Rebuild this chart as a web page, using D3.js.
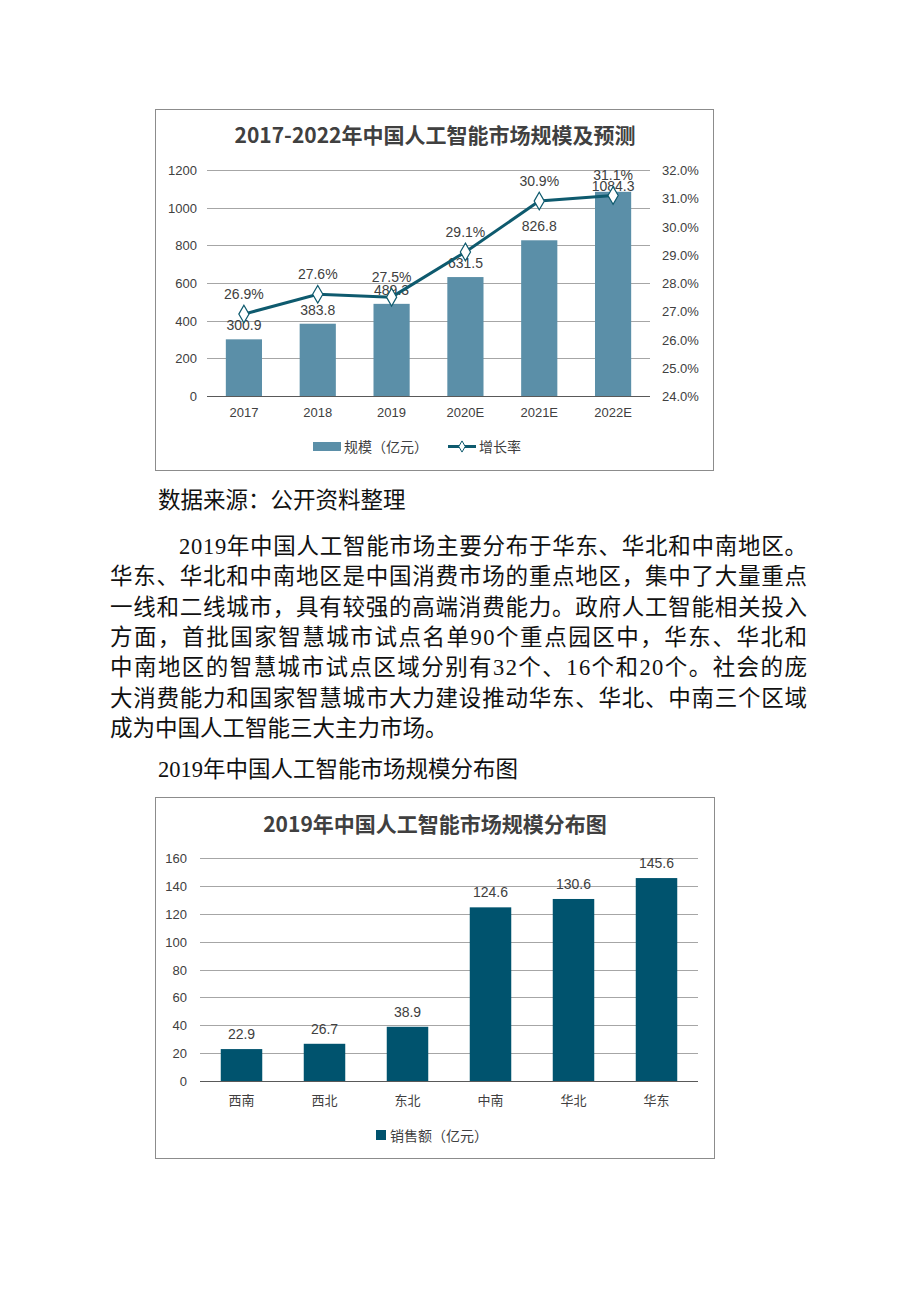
<!DOCTYPE html>
<html>
<head>
<meta charset="utf-8">
<script src="https://cdn.jsdelivr.net/npm/d3@7"></script>
<style>
  body { margin: 0; background: #fff; }
  svg { display: block; }
</style>
</head>
<body>
<div id="page"></div>
<script>
// chart 1 data
const years = ["2017", "2018", "2019", "2020E", "2021E", "2022E"];
const scale = [300.9, 383.8, 489.3, 631.5, 826.8, 1084.3];
const growth = [0.269, 0.276, 0.275, 0.291, 0.309, 0.311];
const leftTicks = [0, 200, 400, 600, 800, 1000, 1200];
const rightTicks = [0.24, 0.25, 0.26, 0.27, 0.28, 0.29, 0.30, 0.31, 0.32];

// chart 2 data
const regions = ["西南", "西北", "东北", "中南", "华北", "华东"];
const sales = [22.9, 26.7, 38.9, 124.6, 130.6, 145.6];
const salesTicks = [0, 20, 40, 60, 80, 100, 120, 140, 160];

const paraLines = [
  "2019年中国人工智能市场主要分布于华东、华北和中南地区。",
  "华东、华北和中南地区是中国消费市场的重点地区，集中了大量重点",
  "一线和二线城市，具有较强的高端消费能力。政府人工智能相关投入",
  "方面，首批国家智慧城市试点名单90个重点园区中，华东、华北和",
  "中南地区的智慧城市试点区域分别有32个、16个和20个。社会的庞",
  "大消费能力和国家智慧城市大力建设推动华东、华北、中南三个区域",
  "成为中国人工智能三大主力市场。"
];

const sans = "'Liberation Sans', Arial, 'Noto Sans CJK SC', sans-serif";
const serif = "'Liberation Serif', 'Times New Roman', 'Noto Sans CJK SC', serif";
const cjk = "'Noto Sans CJK SC', sans-serif";
const txt = "#404040";

const svg = d3.select("#page").append("svg")
    .attr("width", 920)
    .attr("height", 1302);

svg.append("rect").attr("width", 920).attr("height", 1302).attr("fill", "#fff");

// ---------- chart 1 ----------
const c1 = svg.append("g");
c1.append("rect")
    .attr("x", 155.5).attr("y", 109.5).attr("width", 558).attr("height", 361)
    .attr("fill", "none").attr("stroke", "#8c8c8c");

c1.append("text")
    .attr("x", 435).attr("y", 143)
    .attr("text-anchor", "middle")
    .style("font-family", cjk).style("font-size", "21px").style("font-weight", "bold")
    .style("fill", txt)
    .text("2017-2022年中国人工智能市场规模及预测");

const x1 = d3.scaleBand().domain(years).range([207, 650]).paddingInner(0.51).paddingOuter(0.255);
const yL = d3.scaleLinear().domain([0, 1200]).range([396, 170]);
const yR = d3.scaleLinear().domain([0.24, 0.32]).range([396, 170]);
const cx1 = i => x1(years[i]) + x1.bandwidth() / 2;

c1.selectAll(".grid").data(leftTicks).join("line")
    .attr("x1", 207).attr("x2", 650)
    .attr("y1", d => Math.round(yL(d)) + 0.5).attr("y2", d => Math.round(yL(d)) + 0.5)
    .attr("stroke", d => d === 0 ? "#595959" : "#a6a6a6")
    .attr("stroke-width", 1);

c1.selectAll(".lt").data(leftTicks).join("text")
    .attr("x", 197).attr("y", d => yL(d) + 5)
    .attr("text-anchor", "end")
    .style("font-family", sans).style("font-size", "13px").style("fill", txt)
    .text(d => d);

c1.selectAll(".rt").data(rightTicks).join("text")
    .attr("x", 662).attr("y", d => yR(d) + 5)
    .style("font-family", sans).style("font-size", "13px").style("fill", txt)
    .text(d => d3.format(".1%")(d));

c1.selectAll(".xt").data(years).join("text")
    .attr("x", d => x1(d) + x1.bandwidth() / 2).attr("y", 417)
    .attr("text-anchor", "middle")
    .style("font-family", sans).style("font-size", "13px").style("fill", txt)
    .text(d => d);

c1.selectAll(".bar").data(scale).join("rect")
    .attr("x", (d, i) => x1(years[i]))
    .attr("y", d => yL(d))
    .attr("width", x1.bandwidth())
    .attr("height", d => yL(0) - yL(d))
    .attr("fill", "#5b8fa8");

// labels near the top are kept inside the plot, like Excel does
c1.selectAll(".bl").data(scale).join("text")
    .attr("x", (d, i) => cx1(i))
    .attr("y", d => Math.max(yL(d) - 9, 191))
    .attr("text-anchor", "middle")
    .style("font-family", sans).style("font-size", "14px").style("fill", txt)
    .text(d => d);

const line = d3.line()
    .x((d, i) => cx1(i))
    .y(d => yR(d));

c1.append("path").datum(growth)
    .attr("d", line)
    .attr("fill", "none").attr("stroke", "#0e5a6e").attr("stroke-width", 3);

c1.selectAll(".mk").data(growth).join("path")
    .attr("transform", (d, i) => `translate(${cx1(i)},${yR(d)})`)
    .attr("d", d3.symbol(d3.symbolDiamond, 90))
    .attr("fill", "#fff").attr("stroke", "#0e5a6e").attr("stroke-width", 1.2);

c1.selectAll(".gl").data(growth).join("text")
    .attr("x", (d, i) => cx1(i))
    .attr("y", d => yR(d) - 15)
    .attr("text-anchor", "middle")
    .style("font-family", sans).style("font-size", "14px").style("fill", txt)
    .text(d => d3.format(".1%")(d));

// legend 1
c1.append("rect").attr("x", 313).attr("y", 442).attr("width", 28).attr("height", 9).attr("fill", "#5b8fa8");
c1.append("text").attr("x", 344).attr("y", 452)
    .style("font-family", cjk).style("font-size", "14px").style("fill", txt)
    .text("规模（亿元）");
c1.append("line").attr("x1", 448).attr("x2", 476).attr("y1", 446.5).attr("y2", 446.5)
    .attr("stroke", "#0e5a6e").attr("stroke-width", 3);
c1.append("path").attr("transform", "translate(462,446.5)")
    .attr("d", d3.symbol(d3.symbolDiamond, 36))
    .attr("fill", "#fff").attr("stroke", "#0e5a6e");
c1.append("text").attr("x", 479).attr("y", 452)
    .style("font-family", cjk).style("font-size", "14px").style("fill", txt)
    .text("增长率");

// ---------- text ----------
const body = svg.append("g").style("font-family", serif).style("font-size", "22.5px").style("fill", "#111");
body.append("text").attr("x", 158).attr("y", 508).text("数据来源：公开资料整理");

body.selectAll(".pl").data(paraLines).join("text")
    .attr("x", (d, i) => i === 0 ? 179 : 110)
    .attr("y", (d, i) => 554 + i * 30.3)
    .each(function (d, i) {
      if (i < paraLines.length - 1) {
        d3.select(this).attr("textLength", i === 0 ? 628 : 697).attr("lengthAdjust", "spacing");
      }
    })
    .text(d => d);

body.append("text").attr("x", 158).attr("y", 777).text("2019年中国人工智能市场规模分布图");

// ---------- chart 2 ----------
const c2 = svg.append("g");
c2.append("rect")
    .attr("x", 155.5).attr("y", 797.5).attr("width", 559).attr("height", 361)
    .attr("fill", "none").attr("stroke", "#8c8c8c");

c2.append("text")
    .attr("x", 435).attr("y", 832)
    .attr("text-anchor", "middle")
    .style("font-family", cjk).style("font-size", "21px").style("font-weight", "bold")
    .style("fill", txt)
    .text("2019年中国人工智能市场规模分布图");

const x2 = d3.scaleBand().domain(regions).range([200, 698]).paddingInner(0.5).paddingOuter(0.25);
const y2 = d3.scaleLinear().domain([0, 160]).range([1081, 858]);

c2.selectAll(".grid").data(salesTicks).join("line")
    .attr("x1", 200).attr("x2", 698)
    .attr("y1", d => Math.round(y2(d)) + 0.5).attr("y2", d => Math.round(y2(d)) + 0.5)
    .attr("stroke", d => d === 0 ? "#595959" : "#a6a6a6");

c2.selectAll(".yt").data(salesTicks).join("text")
    .attr("x", 187).attr("y", d => y2(d) + 5)
    .attr("text-anchor", "end")
    .style("font-family", sans).style("font-size", "13px").style("fill", txt)
    .text(d => d);

c2.selectAll(".xt").data(regions).join("text")
    .attr("x", d => x2(d) + x2.bandwidth() / 2).attr("y", 1105)
    .attr("text-anchor", "middle")
    .style("font-family", cjk).style("font-size", "13px").style("fill", txt)
    .text(d => d);

c2.selectAll(".bar").data(sales).join("rect")
    .attr("x", (d, i) => x2(regions[i]))
    .attr("y", d => y2(d))
    .attr("width", x2.bandwidth())
    .attr("height", d => y2(0) - y2(d))
    .attr("fill", "#00536e");

c2.selectAll(".bl").data(sales).join("text")
    .attr("x", (d, i) => x2(regions[i]) + x2.bandwidth() / 2)
    .attr("y", d => y2(d) - 10)
    .attr("text-anchor", "middle")
    .style("font-family", sans).style("font-size", "14px").style("fill", txt)
    .text(d => d);

c2.append("rect").attr("x", 376).attr("y", 1130).attr("width", 10).attr("height", 10).attr("fill", "#00536e");
c2.append("text").attr("x", 390).attr("y", 1141)
    .style("font-family", cjk).style("font-size", "14px").style("fill", txt)
    .text("销售额（亿元）");
</script>
</body>
</html>
